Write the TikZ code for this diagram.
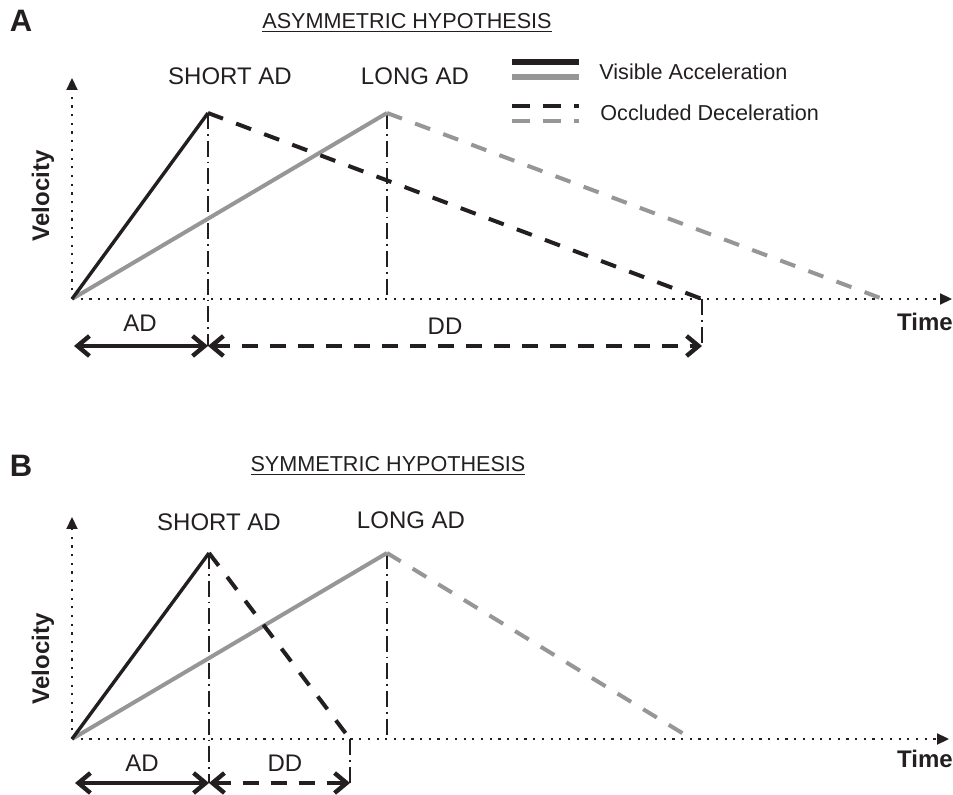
\documentclass[tikz,border=0pt]{standalone}
\usepackage{fontspec}
\setmainfont{Liberation Sans}
\usetikzlibrary{arrows.meta}
\definecolor{inkblack}{RGB}{35,31,32}
\definecolor{curvegray}{RGB}{150,150,150}

\begin{document}
\begin{tikzpicture}[
    x=0.5pt, y=-0.5pt,
    every node/.style={inner sep=0pt, text=inkblack, font=\fontsize{12}{14}\selectfont},
    axisline/.style={draw=inkblack, line width=1.1pt, dash pattern=on 1.1pt off 3.25pt, -{Triangle[length=6pt,width=5.5pt]}},
    guide/.style={draw=inkblack, line width=0.7pt, dash pattern=on 8pt off 2.5pt on 0.8pt off 2.5pt},
    accblack/.style={draw=inkblack, line width=1.7pt},
    accgray/.style={draw=curvegray, line width=2pt},
    decblack/.style={draw=inkblack, line width=2pt, dash pattern=on 8pt off 7pt},
    decgray/.style={draw=curvegray, line width=2pt, dash pattern=on 8pt off 7pt},
    spanad/.style={draw=inkblack, line width=1.8pt, {Straight Barb[length=6pt,width=10pt,line width=2.2pt]}-{Straight Barb[length=6pt,width=10pt,line width=2.2pt]}},
    spandd/.style={spanad, line width=2.2pt, dash pattern=on 8pt off 6pt},
    keyline/.style={line width=2.6pt},
    keydash/.style={line width=2.2pt, dash pattern=on 9pt off 6.5pt},
    panel/.style={font=\bfseries\fontsize{15.5}{18}\selectfont},
    heading/.style={font=\fontsize{10.8}{13}\selectfont},
    keytext/.style={anchor=west, font=\fontsize{10.8}{13}\selectfont},
    axislabel/.style={font=\bfseries\fontsize{12}{14}\selectfont}
]
\useasboundingbox (0,0) rectangle (953,795);

% panel A
\node[panel] (tagA) at (21,21) {A};
\node[heading] (titleA) at (407,23) {\underline{ASYMMETRIC HYPOTHESIS}};

\coordinate (oA) at (72,299);
\coordinate (yA) at (72,78);
\coordinate (xA) at (952,299);
\coordinate (sA) at (208,113);
\coordinate (lA) at (387,113);
\coordinate (sendA) at (702,299);
\coordinate (lendA) at (883,299);
\coordinate (adA) at (74,346);
\coordinate (sbotA) at (208,346);
\coordinate (ddA) at (702,346);

\draw[guide] (sA) -- (sbotA);
\draw[guide] (lA) -- (lA |- oA);
\draw[guide] (sendA) -- (ddA);
\draw[axisline] (oA) -- (yA);
\draw[axisline] (oA) -- (xA);
\draw[accgray] (oA) -- (lA);
\draw[accblack] (oA) -- (sA);
\draw[decgray] (lA) -- (lendA);
\draw[decblack] (sA) -- (sendA);
\draw[spanad] (adA) -- (sbotA);
\draw[spandd] (sbotA) -- (ddA);

\node (shortA) at (230,76) {SHORT AD};
\node (longA) at (415,76) {LONG AD};
\node (adlblA) at (140,323) {AD};
\node (ddlblA) at (445,326) {DD};
\node[axislabel] (timeA) at (925,322) {Time};
\node[axislabel, rotate=90] (velA) at (43,196) {Velocity};

% legend
\node[keytext] (keyvis) at (599,72) {Visible Acceleration};
\node[keytext] (keyocc) at (600,113) {Occluded Deceleration};
\coordinate (visk1) at (512,62);
\coordinate (visk2) at (512,77);
\coordinate (occk1) at (512,106);
\coordinate (occk2) at (512,121);
\draw[keyline, inkblack] (visk1) -- ++(67,0);
\draw[keyline, curvegray] (visk2) -- ++(67,0);
\draw[keydash, inkblack] (occk1) -- ++(67,0);
\draw[keydash, curvegray] (occk2) -- ++(67,0);

% panel B
\node[panel] (tagB) at (21,466) {B};
\node[heading] (titleB) at (388,466) {\underline{SYMMETRIC HYPOTHESIS}};

\coordinate (oB) at (72,739);
\coordinate (yB) at (72,517);
\coordinate (xB) at (949,739);
\coordinate (sB) at (209,553);
\coordinate (lB) at (387,553);
\coordinate (sendB) at (350,739);
\coordinate (lendB) at (692,739);
\coordinate (adB) at (75,783);
\coordinate (sbotB) at (209,783);
\coordinate (ddB) at (350,783);

\draw[guide] (sB) -- (sbotB);
\draw[guide] (lB) -- (lB |- oB);
\draw[guide] (sendB) -- (ddB);
\draw[axisline] (oB) -- (yB);
\draw[axisline] (oB) -- (xB);
\draw[accgray] (oB) -- (lB);
\draw[accblack] (oB) -- (sB);
\draw[decgray] (lB) -- (lendB);
\draw[decblack] (sB) -- (sendB);
\draw[spanad] (adB) -- (sbotB);
\draw[spandd] (sbotB) -- (ddB);

\node (shortB) at (219,522) {SHORT AD};
\node (longB) at (411,520) {LONG AD};
\node (adlblB) at (142,763) {AD};
\node (ddlblB) at (285,763) {DD};
\node[axislabel] (timeB) at (925,759) {Time};
\node[axislabel, rotate=90] (velB) at (43,659) {Velocity};

\end{tikzpicture}
\end{document}
